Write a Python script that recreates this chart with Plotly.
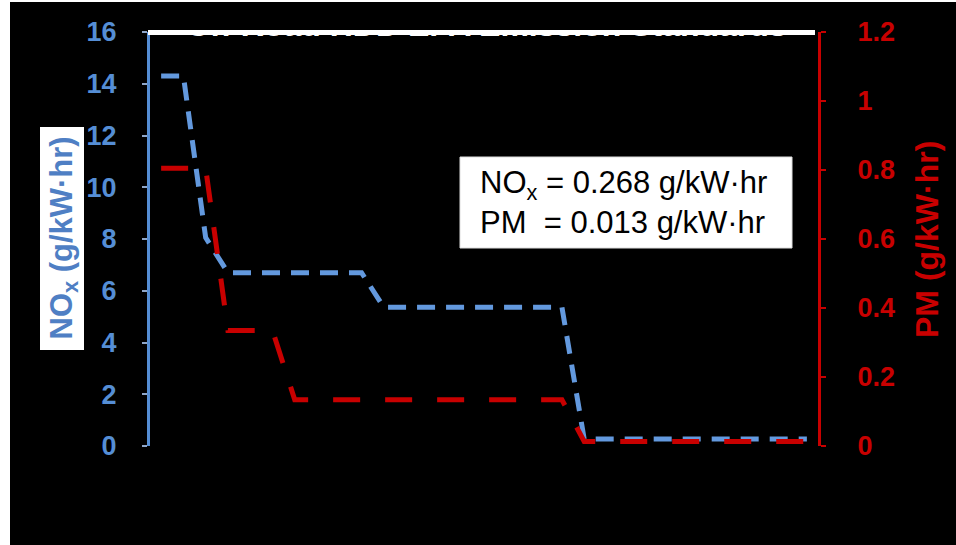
import plotly.graph_objects as go

# Model years on the (hidden) category axis
years = list(range(1988, 2018))

# US EPA on-road heavy-duty diesel standards, converted to g/kW·hr
nox_g_kwhr = ([14.3] * 2 + [8.05] * 1 + [6.7] * 7 + [5.36] * 9 + [0.268] * 11)
pm_g_kwhr = ([0.805] * 3 + [0.335] * 3 + [0.134] * 13 + [0.0134] * 11)

left_ticks = [0, 2, 4, 6, 8, 10, 12, 14, 16]
right_ticks = [0, 0.2, 0.4, 0.6, 0.8, 1, 1.2]
right_tick_text = ["0", "0.2", "0.4", "0.6", "0.8", "1", "1.2"]

title_text = "On-Road HDD EPA Emission Standards"

BLUE_LINE = "#6399DE"
BLUE_AXIS = "#558ED5"
BLUE_TEXT = "#4F7FC4"
RED = "#C80000"
FONT = "Liberation Sans, Arial, sans-serif"

W, H = 956, 545
L, R, T, B = 150, 138, 32, 99
PW, PH = W - L - R, H - T - B


def px_x(x):
    return (x - L) / PW


def px_y(y):
    return (H - B - y) / PH


fig = go.Figure()

fig.add_trace(go.Scatter(
    x=years, y=nox_g_kwhr, mode="lines", yaxis="y",
    line=dict(color=BLUE_LINE, width=5, dash="18px,11px"),
    showlegend=False, hoverinfo="skip",
))
fig.add_trace(go.Scatter(
    x=years, y=pm_g_kwhr, mode="lines", yaxis="y2",
    line=dict(color=RED, width=5, dash="27px,25px"),
    showlegend=False, hoverinfo="skip",
))
# Chart title, sitting on the top edge of the plot area (clipped by it)
fig.add_trace(go.Scatter(
    x=[2002.6], y=[16.15], mode="text", yaxis="y",
    text=[f"<b>{title_text}</b>"], textposition="middle center",
    textfont=dict(family=FONT, size=32, color="white"),
    cliponaxis=True, showlegend=False, hoverinfo="skip",
))

shapes = [
    # white frame strips on the left and top edges
    dict(type="rect", xref="paper", yref="paper", layer="below",
         x0=px_x(-5), x1=px_x(10), y0=px_y(-5), y1=px_y(H + 5),
         fillcolor="white", line=dict(width=0)),
    dict(type="rect", xref="paper", yref="paper", layer="below",
         x0=px_x(-5), x1=px_x(W + 5), y0=px_y(2), y1=px_y(-5),
         fillcolor="white", line=dict(width=0)),
    # top border of the plot area
    dict(type="line", xref="paper", yref="paper", layer="above",
         x0=px_x(148), x1=px_x(815), y0=px_y(32.5), y1=px_y(32.5),
         line=dict(color="white", width=5)),
    # white box behind the left axis title
    dict(type="rect", xref="paper", yref="paper", layer="above",
         x0=px_x(40), x1=px_x(84), y0=px_y(350), y1=px_y(127),
         fillcolor="white", line=dict(width=0)),
    # white box for the 2010 standard values
    dict(type="rect", xref="paper", yref="paper", layer="above",
         x0=px_x(460), x1=px_x(792), y0=px_y(248), y1=px_y(157),
         fillcolor="white", line=dict(color="#DDDDDD", width=1)),
]

annotations = [
    dict(text="<b>NO<sub>x</sub> (g/kW·hr)</b>", xref="paper", yref="paper",
         x=px_x(63), y=px_y(238.5), showarrow=False, textangle=-90,
         font=dict(family=FONT, size=31, color=BLUE_TEXT),
         xanchor="center", yanchor="middle"),
    dict(text="<b>PM (g/kW·hr)</b>", xref="paper", yref="paper",
         x=px_x(927), y=px_y(240), showarrow=False, textangle=-90,
         font=dict(family=FONT, size=32, color=RED),
         xanchor="center", yanchor="middle"),
    dict(text="NO<sub>x</sub> = 0.268 g/kW·hr<br>PM\u00a0\u00a0= 0.013 g/kW·hr",
         xref="paper", yref="paper", x=px_x(623), y=px_y(202.5),
         showarrow=False, align="left",
         font=dict(family=FONT, size=31, color="black"),
         xanchor="center", yanchor="middle"),
]

fig.update_layout(
    width=W, height=H,
    margin=dict(l=L, r=R, t=T, b=B, pad=0),
    paper_bgcolor="black", plot_bgcolor="black",
    showlegend=False,
    xaxis=dict(visible=False, range=[1987.5, 2017.5]),
    yaxis=dict(
        range=[0, 16], tickvals=left_ticks, showgrid=False, zeroline=False,
        showline=True, linecolor=BLUE_AXIS, linewidth=3,
        ticks="outside", ticklen=5, tickwidth=2, tickcolor="#8FA6C8",
        ticklabelstandoff=20,
        tickfont=dict(family=FONT, size=27, color=BLUE_AXIS, weight="bold"),
    ),
    yaxis2=dict(
        range=[0, 1.2], tickvals=right_ticks, ticktext=right_tick_text,
        overlaying="y", side="right", showgrid=False, zeroline=False,
        showline=True, linecolor=RED, linewidth=3,
        ticks="outside", ticklen=5, tickwidth=2, tickcolor=RED,
        ticklabelstandoff=26,
        tickfont=dict(family=FONT, size=27, color=RED, weight="bold"),
    ),
    shapes=shapes,
    annotations=annotations,
)

fig.write_html("out.html")
